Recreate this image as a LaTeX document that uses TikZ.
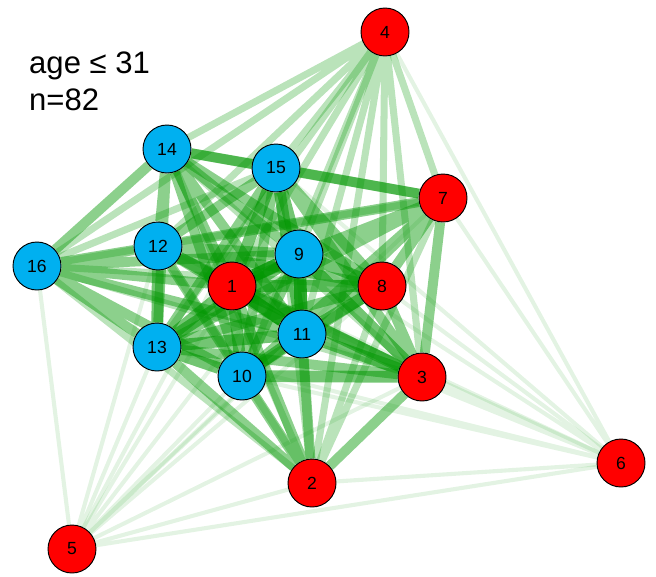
\documentclass[tikz,border=0pt]{standalone}
\usepackage{fontspec}
\setmainfont{Liberation Sans}
\pgfdeclarelayer{edges}
\pgfsetlayers{edges,main}
\definecolor{nodered}{RGB}{255,0,0}
\definecolor{nodeblue}{RGB}{0,176,240}
\definecolor{linkgreen}{RGB}{0,150,0}
\tikzset{
  vert/.style={circle, draw=black, line width=0.8pt, minimum size=1.44cm, inner sep=0pt, font=\fontsize{15}{17}\selectfont},
  redvert/.style={vert, fill=nodered},
  bluevert/.style={vert, fill=nodeblue},
  wfive/.style={linkgreen, line width=11pt, opacity=0.8},
  wfour/.style={linkgreen, line width=10pt, opacity=0.55},
  wthree/.style={linkgreen, line width=8.5pt, opacity=0.45},
  wtwo/.style={linkgreen, line width=6pt, opacity=0.27},
  wone/.style={linkgreen, line width=3.5pt, opacity=0.11}
}
\begin{document}
\begin{tikzpicture}[x=0.03cm, y=-0.03cm]
			\useasboundingbox (0,0) rectangle (656,576);
			% caption
			\node[anchor=base west, inner sep=0pt, font=\fontsize{26.5}{32}\selectfont] (agelabel) at (29,73) {age ≤ 31};
			\node[anchor=base west, inner sep=0pt, font=\fontsize{26.5}{32}\selectfont] (countlabel) at (29,110) {n=82};
			% red vertices
			\node[redvert] (n1) at (232,286) {1};
			\node[redvert] (n2) at (312,483) {2};
			\node[redvert] (n3) at (422,377) {3};
			\node[redvert] (n4) at (385,32) {4};
			\node[redvert] (n5) at (72,549) {5};
			\node[redvert] (n6) at (621,463) {6};
			\node[redvert] (n7) at (443,198) {7};
			\node[redvert] (n8) at (382,286) {8};
			% blue vertices
			\node[bluevert] (n9) at (299,254) {9};
			\node[bluevert] (n10) at (242,376) {10};
			\node[bluevert] (n11) at (302,334) {11};
			\node[bluevert] (n12) at (158,246) {12};
			\node[bluevert] (n13) at (157,347) {13};
			\node[bluevert] (n14) at (167,149) {14};
			\node[bluevert] (n15) at (276,168) {15};
			\node[bluevert] (n16) at (37,266) {16};
			\begin{pgfonlayer}{edges}
			% faint links of 5 and 6
			\draw[wone] (n5) -- (n16) (n5) -- (n13) (n5) -- (n12) (n5) -- (n10) (n5) -- (n1) (n5) -- (n11) (n5) -- (n9);
			\draw[wone] (n5) -- (n3) (n5) -- (n2) (n5) -- (n8) (n5) -- (n6) (n5) -- (n15) (n5) -- (n7);
			\draw[wone] (n6) -- (n3) (n6) -- (n8) (n6) -- (n11) (n6) -- (n9) (n6) -- (n1) (n6) -- (n10) (n6) -- (n13);
			\draw[wone] (n6) -- (n12) (n6) -- (n7) (n6) -- (n2) (n6) -- (n15) (n6) -- (n4);
			% light links
			\draw[wtwo] (n4) -- (n14) (n4) -- (n15) (n4) -- (n12) (n4) -- (n16) (n4) -- (n7) (n4) -- (n9) (n4) -- (n1);
			\draw[wtwo] (n4) -- (n8) (n4) -- (n3) (n4) -- (n10) (n4) -- (n11) (n4) -- (n13) (n4) -- (n2);
			\draw[wtwo] (n16) -- (n15) (n16) -- (n3) (n16) -- (n2) (n16) -- (n7) (n16) -- (n8) (n14) -- (n3);
			\draw[wtwo] (n2) -- (n8) (n2) -- (n9) (n2) -- (n12) (n2) -- (n7) (n2) -- (n14) (n2) -- (n15);
			% medium links
			\draw[wthree] (n14) -- (n15) (n14) -- (n12) (n14) -- (n1) (n14) -- (n9) (n14) -- (n13) (n14) -- (n11);
			\draw[wthree] (n14) -- (n10) (n14) -- (n8) (n14) -- (n7);
			\draw[wthree] (n12) -- (n15) (n12) -- (n9) (n12) -- (n10) (n12) -- (n11) (n12) -- (n8) (n12) -- (n3) (n12) -- (n7);
			\draw[wthree] (n16) -- (n12) (n16) -- (n13) (n16) -- (n14) (n16) -- (n1) (n16) -- (n11) (n16) -- (n10) (n16) -- (n9);
			\draw[wthree] (n7) -- (n15) (n7) -- (n3) (n7) -- (n8) (n7) -- (n9) (n7) -- (n1) (n7) -- (n11) (n7) -- (n10) (n7) -- (n13);
			\draw[wthree] (n2) -- (n3) (n2) -- (n10) (n2) -- (n13) (n2) -- (n1) (n2) -- (n11);
			\draw[wthree] (n3) -- (n8) (n3) -- (n13) (n15) -- (n8) (n15) -- (n13) (n15) -- (n10) (n15) -- (n3);
			\draw[wthree] (n13) -- (n8) (n10) -- (n8) (n10) -- (n9);
			% strong links
			\draw[wfour] (n1) -- (n15) (n15) -- (n9) (n1) -- (n10) (n10) -- (n11) (n1) -- (n13) (n13) -- (n10);
			\draw[wfour] (n11) -- (n3) (n10) -- (n3) (n13) -- (n11) (n12) -- (n13) (n1) -- (n12) (n8) -- (n11);
			\draw[wfour] (n9) -- (n8) (n15) -- (n11) (n13) -- (n9) (n1) -- (n3) (n1) -- (n8) (n9) -- (n3);
			% strongest links
			\draw[wfive] (n1) -- (n11) (n9) -- (n11) (n1) -- (n9);
			\end{pgfonlayer}
		\end{tikzpicture}
\end{document}
